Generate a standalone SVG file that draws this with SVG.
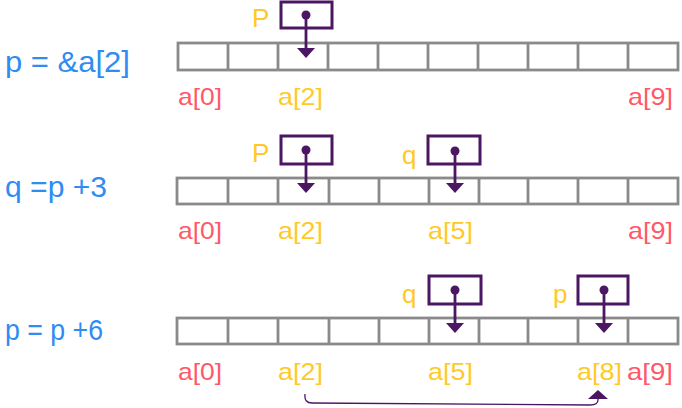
<svg xmlns="http://www.w3.org/2000/svg" width="682" height="408" viewBox="0 0 682 408">
<style>
.arr{fill:none;stroke:#8a8a8a;stroke-width:2.8}
.box{fill:none;stroke:#4b1763;stroke-width:3}
.ptr{stroke:#4b1763;stroke-width:2.8;fill:none}
.head{fill:#4b1763}
.dot{fill:#4b1763}
.expr{font-family:"Liberation Sans","DejaVu Sans",sans-serif;font-size:30px;fill:#2f8cf2}
.lbl{font-family:"Liberation Sans","DejaVu Sans",sans-serif;font-size:24px}
.plbl{font-family:"Liberation Sans","DejaVu Sans",sans-serif;font-size:26px}
.red{fill:#ff5868}
.yel{fill:#ffc928}
.conn{fill:none;stroke:#4b1763;stroke-width:1.3}
</style>
<rect width="682" height="408" fill="#ffffff"/>

<g id="expr1"><text class="expr" x="5" y="72" textLength="125" lengthAdjust="spacingAndGlyphs">p = &amp;a[2]</text></g>
<g id="expr2"><text class="expr" x="5" y="197" textLength="102" lengthAdjust="spacingAndGlyphs">q =p +3</text></g>
<g id="expr3"><text class="expr" x="5" y="340" textLength="98" lengthAdjust="spacingAndGlyphs">p = p +6</text></g>

<g id="array1">
<rect class="arr" x="178" y="43" width="500" height="27"/>
<path class="arr" d="M228,43V70M278,43V70M328,43V70M378,43V70M428,43V70M478,43V70M528,43V70M578,43V70M628,43V70"/>
</g>
<g id="array2">
<rect class="arr" x="177" y="178" width="501" height="26"/>
<path class="arr" d="M228,178V204M278,178V204M329,178V204M379,178V204M429,178V204M479,178V204M528,178V204M578,178V204M628,178V204"/>
</g>
<g id="array3">
<rect class="arr" x="177" y="318" width="501" height="26"/>
<path class="arr" d="M228,318V344M278,318V344M329,318V344M379,318V344M429,318V344M479,318V344M528,318V344M578,318V344M628,318V344"/>
</g>

<g id="labels1">
<text class="lbl red" x="178" y="105" textLength="44" lengthAdjust="spacingAndGlyphs">a[0]</text>
<text class="lbl yel" x="278" y="105" textLength="45" lengthAdjust="spacingAndGlyphs">a[2]</text>
<text class="lbl red" x="628" y="105" textLength="45" lengthAdjust="spacingAndGlyphs">a[9]</text>
</g>
<g id="labels2">
<text class="lbl red" x="178" y="239" textLength="44" lengthAdjust="spacingAndGlyphs">a[0]</text>
<text class="lbl yel" x="278" y="239" textLength="45" lengthAdjust="spacingAndGlyphs">a[2]</text>
<text class="lbl yel" x="428" y="239" textLength="45" lengthAdjust="spacingAndGlyphs">a[5]</text>
<text class="lbl red" x="628" y="239" textLength="45" lengthAdjust="spacingAndGlyphs">a[9]</text>
</g>
<g id="labels3">
<text class="lbl red" x="178" y="380" textLength="44" lengthAdjust="spacingAndGlyphs">a[0]</text>
<text class="lbl yel" x="278" y="380" textLength="45" lengthAdjust="spacingAndGlyphs">a[2]</text>
<text class="lbl yel" x="428" y="380" textLength="45" lengthAdjust="spacingAndGlyphs">a[5]</text>
<text class="lbl yel" x="577" y="380" textLength="45" lengthAdjust="spacingAndGlyphs">a[8]</text>
<text class="lbl red" x="627" y="380" textLength="46" lengthAdjust="spacingAndGlyphs">a[9]</text>
</g>

<g id="ptr-p1">
<text class="plbl yel" x="252" y="27">P</text>
<rect class="box" x="281" y="2" width="51" height="26"/>
<circle class="dot" cx="306" cy="15" r="4.5"/>
</g>
<g id="ptr-p2">
<text class="plbl yel" x="252" y="162">P</text>
<rect class="box" x="281" y="136" width="51" height="28"/>
<circle class="dot" cx="306" cy="150" r="4.5"/>
</g>
<g id="ptr-q2">
<text class="plbl yel" x="402" y="164">q</text>
<rect class="box" x="428" y="136" width="52" height="28"/>
<circle class="dot" cx="455" cy="151" r="4.5"/>
</g>
<g id="ptr-q3">
<text class="plbl yel" x="402" y="303">q</text>
<rect class="box" x="429" y="276" width="52" height="28"/>
<circle class="dot" cx="455" cy="290" r="4.5"/>
</g>
<g id="ptr-p3">
<text class="plbl yel" x="553" y="303">p</text>
<rect class="box" x="578" y="276" width="50" height="28"/>
<circle class="dot" cx="604" cy="290" r="4.5"/>
</g>

<g id="connectors">
<path class="ptr" d="M306,15V50"/>
<polygon class="head" points="297,48 315,48 306,58"/>
<path class="ptr" d="M306,150V185"/>
<polygon class="head" points="297,183 315,183 306,193"/>
<path class="ptr" d="M455,151V185"/>
<polygon class="head" points="446,183 464,183 455,193"/>
<path class="ptr" d="M455,290V325"/>
<polygon class="head" points="446,323 464,323 455,333"/>
<path class="ptr" d="M604,290V325"/>
<polygon class="head" points="595,323 613,323 604,333"/>
<path class="conn" d="M305,394Q304,403 312,403L590,405Q598,405 598,400L598,395"/>
<polygon class="head" points="598,390 608,399 588,399"/>
</g>
</svg>
